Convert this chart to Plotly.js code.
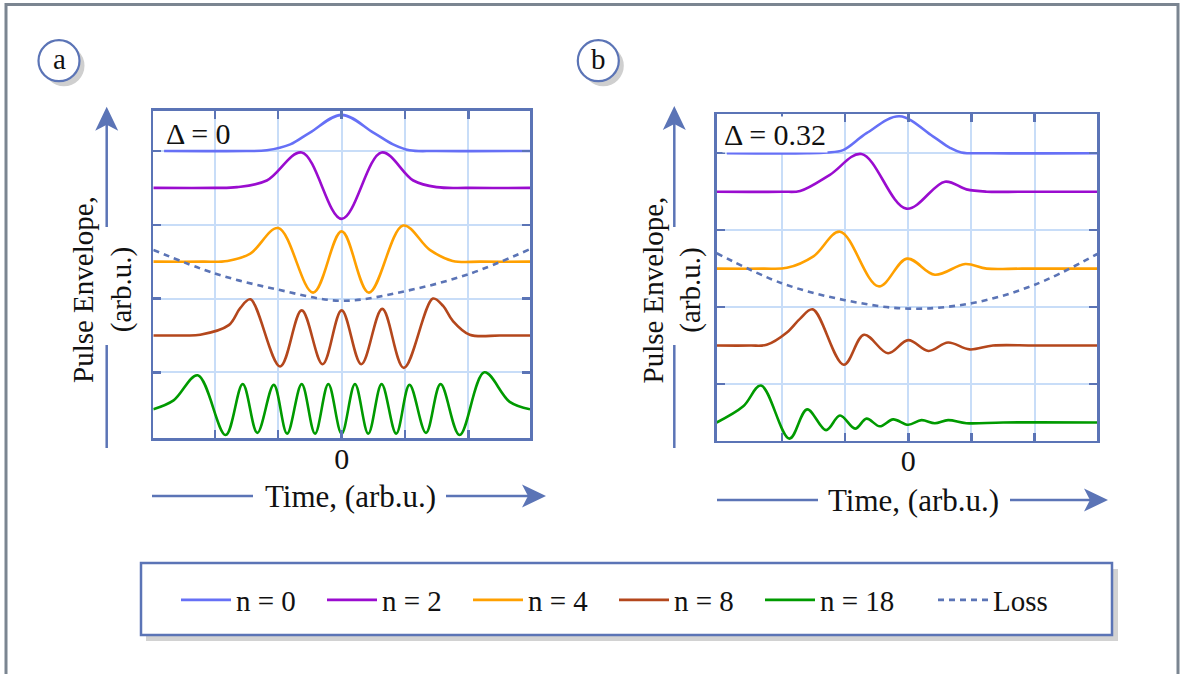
<!DOCTYPE html>
<html>
<head>
<meta charset="utf-8">
<script src="https://cdn.plot.ly/plotly-3.0.1.min.js"></script>
<style>
  html, body { margin: 0; padding: 0; background: #ffffff; }
  #chart { width: 1182px; height: 674px; }
</style>
</head>
<body>
<div id="chart"></div>
<script>
// ---------------- data ----------------
// Panel a : Δ = 0
const a_n0_x = [-2.8, -1.5, -1.18, -0.81, -0.5, 0, 0.5, 0.81, 1.07, 1.5, 2.97];
const a_n0_y = [4, 4, 4.01, 4.09, 4.25, 4.49, 4.25, 4.09, 4.01, 4, 4];
const a_n2_x = [-2.97, -2.0, -1.65, -1.18, -0.63, 0, 0.63, 1.13, 1.5, 2.0, 2.97];
const a_n2_y = [3.5, 3.5, 3.51, 3.6, 3.98, 3.08, 3.98, 3.6, 3.51, 3.5, 3.5];
const a_n4_x = [-2.97, -2.2, -1.8, -1.44, -1.0, -0.45, 0, 0.43, 0.97, 1.39, 1.75, 2.2, 2.97];
const a_n4_y = [2.5, 2.5, 2.51, 2.61, 2.955, 2.08, 2.91, 2.08, 2.99, 2.66, 2.51, 2.5, 2.5];
const a_n8_x = [-2.97, -2.5, -2.23, -1.78, -1.6, -1.44, -0.97, -0.63, -0.3, 0, 0.31, 0.64, 0.98, 1.44, 1.6, 1.75, 2.02, 2.5, 2.97];
const a_n8_y = [1.5, 1.5, 1.51, 1.64, 1.87, 1.99, 1.08, 1.84, 1.11, 1.84, 1.11, 1.86, 1.06, 2.0, 1.9, 1.7, 1.51, 1.5, 1.5];
const a_n18_x = [-2.97, -2.65, -2.27, -1.83, -1.56, -1.33, -1.07, -0.86, -0.63, -0.42, -0.21, 0, 0.21, 0.42, 0.63, 0.86, 1.07, 1.33, 1.56, 1.86, 2.25, 2.65, 2.97];
const a_n18_y = [0.5, 0.62, 0.96, 0.15, 0.84, 0.18, 0.83, 0.17, 0.84, 0.17, 0.84, 0.17, 0.84, 0.17, 0.84, 0.17, 0.83, 0.18, 0.84, 0.15, 1.0, 0.6, 0.5];
const a_loss_x = [-2.97, -2, -1, 0, 1, 2, 2.97];
const a_loss_y = [2.66, 2.34, 2.12, 1.97, 2.1, 2.33, 2.67];

// Panel b : Δ = 0.32
const b_n0_x = [-2.87, -1.6, -1.29, -1.03, -0.66, -0.14, 0.39, 0.66, 0.84, 1.3, 2.99];
const b_n0_y = [4, 4, 4.01, 4.04, 4.26, 4.48, 4.22, 4.07, 4.01, 4, 4];
const b_n2_x = [-3.03, -2.0, -1.71, -1.24, -0.74, -0.03, 0.58, 0.92, 1.24, 1.8, 2.99];
const b_n2_y = [3.5, 3.5, 3.51, 3.72, 3.99, 3.28, 3.63, 3.53, 3.5, 3.5, 3.5];
const b_n4_x = [-3.03, -2.3, -1.92, -1.5, -1.08, -0.47, -0.02, 0.42, 0.9, 1.24, 1.8, 2.99];
const b_n4_y = [2.5, 2.5, 2.51, 2.66, 2.98, 2.27, 2.63, 2.42, 2.56, 2.5, 2.5, 2.5];
const b_n8_x = [-3.03, -2.5, -2.24, -1.92, -1.71, -1.51, -1.02, -0.7, -0.32, 0, 0.32, 0.63, 0.97, 1.34, 2.0, 2.99];
const b_n8_y = [1.5, 1.5, 1.51, 1.67, 1.85, 1.97, 1.25, 1.64, 1.4, 1.57, 1.43, 1.54, 1.45, 1.5, 1.5, 1.5];
const b_n18_x = [-3.03, -2.61, -2.33, -1.88, -1.6, -1.3, -1.08, -0.84, -0.66, -0.45, -0.24, 0, 0.21, 0.42, 0.63, 0.92, 1.5, 2.99];
const b_n18_y = [0.5, 0.71, 0.98, 0.29, 0.67, 0.4, 0.59, 0.42, 0.55, 0.45, 0.54, 0.47, 0.53, 0.49, 0.53, 0.49, 0.5, 0.5];
const b_loss_x = [-3.03, -2, -1, 0, 1, 2, 2.99];
const b_loss_y = [2.7, 2.31, 2.09, 1.98, 2.05, 2.29, 2.69];

const seriesNames = ['n = 0', 'n = 2', 'n = 4', 'n = 8', 'n = 18', 'Loss'];
const xTickVals = [-2, -1, 0, 1, 2];
const xTickText = ['', '', '0', '', ''];
const yTickVals = [1, 2, 3, 4];
const panelLabels = ['a', 'b'];
const deltaLabels = ['\u0394 = 0', '\u0394 = 0.32'];
const xTitle = 'Time, (arb.u.)';
const yTitle = 'Pulse Envelope,<br>(arb.u.)';

// ---------------- style ----------------
const W = 1182, H = 674;
const P = px => px / W;
const Q = py => 1 - py / H;
const FONT = 'Liberation Serif, Times New Roman, serif';
const BLUE = '#5b74b6';
const GRID = '#c8ddf8';
const colors = ['#6670f6', '#9a0ccf', '#ffa000', '#b4471c', '#009a00', '#5b74b6'];

function curve(x, y, i, xa, ya, show) {
  const t = {
    x: x, y: y, xaxis: xa, yaxis: ya, type: 'scatter', mode: 'lines',
    name: seriesNames[i], showlegend: show, legendrank: i + 1,
    line: { color: colors[i], width: 2.6, shape: 'spline', smoothing: 1,
            dash: i === 5 ? '6px,5px' : 'solid' },
    hoverinfo: 'skip'
  };
  if (i === 4) t.legendwidth = 108;
  return t;
}

const data = [
  curve(a_n0_x, a_n0_y, 0, 'x', 'y', true),
  curve(a_n2_x, a_n2_y, 1, 'x', 'y', true),
  curve(a_n4_x, a_n4_y, 2, 'x', 'y', true),
  curve(a_n8_x, a_n8_y, 3, 'x', 'y', true),
  curve(a_n18_x, a_n18_y, 4, 'x', 'y', true),
  curve(a_loss_x, a_loss_y, 5, 'x', 'y', true),
  curve(b_n0_x, b_n0_y, 0, 'x2', 'y2', false),
  curve(b_n2_x, b_n2_y, 1, 'x2', 'y2', false),
  curve(b_n4_x, b_n4_y, 2, 'x2', 'y2', false),
  curve(b_n8_x, b_n8_y, 3, 'x2', 'y2', false),
  curve(b_n18_x, b_n18_y, 4, 'x2', 'y2', false),
  curve(b_loss_x, b_loss_y, 5, 'x2', 'y2', false)
];

function xAxis(domain, range, anchor) {
  return {
    domain: domain, range: range, fixedrange: true, anchor: anchor,
    tickmode: 'array', tickvals: xTickVals, ticktext: xTickText,
    ticks: 'inside', ticklen: 8, tickwidth: 2.5, tickcolor: BLUE,
    showline: true, linecolor: BLUE, linewidth: 2.5, mirror: 'ticks',
    showgrid: true, gridcolor: GRID, gridwidth: 2, zeroline: false,
    tickfont: { family: FONT, size: 30, color: '#111' }, ticklabelstandoff: -8
  };
}
function yAxis(domain, range, anchor) {
  return {
    domain: domain, range: range, fixedrange: true, anchor: anchor,
    tickmode: 'array', tickvals: yTickVals, showticklabels: false,
    ticks: 'inside', ticklen: 8, tickwidth: 2.5, tickcolor: BLUE,
    showline: true, linecolor: BLUE, linewidth: 2.5, mirror: 'ticks',
    showgrid: true, gridcolor: GRID, gridwidth: 2, zeroline: false
  };
}

const shapes = [];
// outer frame (open at the bottom)
shapes.push({ type: 'path', xref: 'paper', yref: 'paper',
  path: `M ${P(6)} ${Q(680)} L ${P(6)} ${Q(4.5)} L ${P(1178)} ${Q(4.5)} L ${P(1178)} ${Q(680)}`,
  line: { color: '#7b8591', width: 3 } });

// panel label circles
function circle(cx, cy) {
  const r = 20.5;
  shapes.push({ type: 'circle', xref: 'paper', yref: 'paper',
    x0: P(cx - r + 5), x1: P(cx + r + 5), y0: Q(cy + r + 5), y1: Q(cy - r + 5),
    fillcolor: '#cfcfcf', line: { width: 0 } });
  shapes.push({ type: 'circle', xref: 'paper', yref: 'paper',
    x0: P(cx - r), x1: P(cx + r), y0: Q(cy + r), y1: Q(cy - r),
    fillcolor: '#ffffff', line: { color: BLUE, width: 2.2 } });
}
circle(59, 60.7);
circle(598.3, 60.7);

// arrows
function seg(x0, y0, x1, y1) {
  shapes.push({ type: 'line', xref: 'paper', yref: 'paper',
    x0: P(x0), y0: Q(y0), x1: P(x1), y1: Q(y1), line: { color: BLUE, width: 2.5 } });
}
function headUp(x, tip) {
  shapes.push({ type: 'path', xref: 'paper', yref: 'paper',
    path: `M ${P(x)} ${Q(tip)} L ${P(x - 11.5)} ${Q(tip + 24)} L ${P(x)} ${Q(tip + 18)} L ${P(x + 11.5)} ${Q(tip + 24)} Z`,
    fillcolor: BLUE, line: { width: 0 } });
}
function headRight(tip, y) {
  shapes.push({ type: 'path', xref: 'paper', yref: 'paper',
    path: `M ${P(tip)} ${Q(y)} L ${P(tip - 24)} ${Q(y - 11.5)} L ${P(tip - 18)} ${Q(y)} L ${P(tip - 24)} ${Q(y + 11.5)} Z`,
    fillcolor: BLUE, line: { width: 0 } });
}
// panel a
seg(106.7, 448, 106.7, 345); seg(106.7, 227, 106.7, 124); headUp(106.7, 106.7);
seg(152, 496, 253, 496); seg(446, 496, 530, 496); headRight(546, 496);
// panel b
seg(674.3, 448, 674.3, 345); seg(674.3, 227, 674.3, 124); headUp(674.3, 106);
seg(717, 500, 818, 500); seg(1010, 500, 1092, 500); headRight(1108, 500);

// legend box + shadow
shapes.push({ type: 'rect', xref: 'paper', yref: 'paper',
  x0: P(146), x1: P(1118), y0: Q(641), y1: Q(569), fillcolor: '#d2d2d2', line: { width: 0 } });
shapes.push({ type: 'rect', xref: 'paper', yref: 'paper',
  x0: P(141), x1: P(1112), y0: Q(635), y1: Q(563), fillcolor: '#ffffff', line: { color: BLUE, width: 2.5 } });

const annotations = [
  { xref: 'paper', yref: 'paper', x: P(59), y: Q(59), text: panelLabels[0], showarrow: false,
    font: { family: FONT, size: 29, color: '#111' }, xanchor: 'center', yanchor: 'middle' },
  { xref: 'paper', yref: 'paper', x: P(598.3), y: Q(59), text: panelLabels[1], showarrow: false,
    font: { family: FONT, size: 29, color: '#111' }, xanchor: 'center', yanchor: 'middle' },
  { xref: 'paper', yref: 'paper', x: P(164), y: Q(133), text: deltaLabels[0], showarrow: false,
    font: { family: FONT, size: 30, color: '#111' }, xanchor: 'left', yanchor: 'middle' },
  { xref: 'paper', yref: 'paper', x: P(722), y: Q(135), text: deltaLabels[1], showarrow: false,
    font: { family: FONT, size: 30, color: '#111' }, xanchor: 'left', yanchor: 'middle',
    bgcolor: '#ffffff', borderpad: 1 },
  { xref: 'paper', yref: 'paper', x: P(350), y: Q(496), text: xTitle, showarrow: false,
    font: { family: FONT, size: 31, color: '#111' }, xanchor: 'center', yanchor: 'middle' },
  { xref: 'paper', yref: 'paper', x: P(914), y: Q(500), text: xTitle, showarrow: false,
    font: { family: FONT, size: 31, color: '#111' }, xanchor: 'center', yanchor: 'middle' },
  { xref: 'paper', yref: 'paper', x: P(102), y: Q(290), text: yTitle, showarrow: false, textangle: -90,
    font: { family: FONT, size: 29, color: '#111' }, xanchor: 'center', yanchor: 'middle' },
  { xref: 'paper', yref: 'paper', x: P(671.5), y: Q(290), text: yTitle, showarrow: false, textangle: -90,
    font: { family: FONT, size: 29, color: '#111' }, xanchor: 'center', yanchor: 'middle' }
];

const layout = {
  width: W, height: H,
  margin: { l: 0, r: 0, t: 0, b: 0, pad: 0 },
  paper_bgcolor: '#ffffff', plot_bgcolor: '#ffffff',
  font: { family: FONT, color: '#111' },
  xaxis: xAxis([P(153.3), P(530)], [-2.97, 2.97], 'y'),
  yaxis: yAxis([Q(438.3), Q(110.7)], [0.106, 4.546], 'x'),
  xaxis2: xAxis([P(716.7), P(1097.3)], [-3.03, 2.99], 'y2'),
  yaxis2: yAxis([Q(440.7), Q(114)], [0.263, 4.51], 'x2'),
  showlegend: true,
  legend: {
    orientation: 'h', x: P(176), y: Q(600), xanchor: 'left', yanchor: 'middle',
    bgcolor: 'rgba(0,0,0,0)', borderwidth: 0,
    font: { family: FONT, size: 29, color: '#111' },
    itemwidth: 50,
    entrywidthmode: 'pixels', entrywidth: 81, itemclick: false, itemdoubleclick: false
  },
  shapes: shapes,
  annotations: annotations
};

Plotly.newPlot('chart', data, layout, { displayModeBar: false, staticPlot: true });
</script>
</body>
</html>
